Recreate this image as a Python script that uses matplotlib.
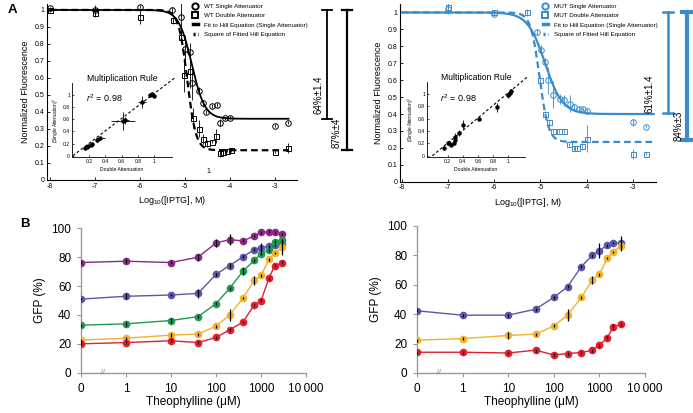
import matplotlib
matplotlib.use("Agg")
import matplotlib.pyplot as plt
import matplotlib.transforms as mtransforms
from matplotlib.lines import Line2D
import numpy as np

plt.rcParams['font.family'] = ['Liberation Sans', 'DejaVu Sans']
plt.rcParams['mathtext.fontset'] = 'custom'
plt.rcParams['mathtext.rm'] = 'Liberation Sans'
plt.rcParams['mathtext.it'] = 'Liberation Sans:italic'

# ---- panel A data (log10 IPTG, normalized fluorescence) ----
wt_single_x = [-8.0, -7.0, -6.0, -5.3, -5.1, -5.0, -4.9, -4.84, -4.68, -4.61, -4.53, -4.41, -4.3, -4.22, -4.11, -4.0, -3.0, -2.7]
wt_single_y = [1.01, 1.0, 1.02, 1.0, 0.96, 0.77, 0.755, 0.57, 0.525, 0.45, 0.40, 0.435, 0.44, 0.337, 0.363, 0.366, 0.32, 0.337]
wt_single_err = [0.01, 0.03, 0.01, 0.02, 0.1, 0.08, 0.05, 0.1, 0.02, 0.02, 0.01, 0.01, 0.01, 0.02, 0.01, 0.01, 0.01, 0.01]
wt_double_x = [-8.0, -7.0, -6.0, -5.27, -5.1, -5.02, -4.9, -4.83, -4.69, -4.61, -4.52, -4.41, -4.31, -4.22, -4.15, -4.07, -3.98, -3.0, -2.7]
wt_double_y = [1.0, 0.98, 0.96, 0.94, 0.84, 0.62, 0.64, 0.363, 0.30, 0.24, 0.216, 0.225, 0.26, 0.157, 0.167, 0.172, 0.176, 0.167, 0.19]
wt_double_err = [0.01, 0.02, 0.04, 0.02, 0.03, 0.1, 0.1, 0.06, 0.05, 0.03, 0.02, 0.01, 0.04, 0.02, 0.01, 0.01, 0.01, 0.01, 0.03]

mut_single_x = [-7.0, -6.0, -5.08, -4.98, -4.9, -4.83, -4.72, -4.58, -4.5, -4.37, -4.27, -4.16, -4.08, -4.0, -3.0, -2.72]
mut_single_y = [1.02, 0.99, 0.885, 0.78, 0.71, 0.6, 0.515, 0.49, 0.48, 0.46, 0.44, 0.43, 0.43, 0.42, 0.35, 0.325]
mut_single_err = [0.03, 0.01, 0.02, 0.03, 0.02, 0.08, 0.08, 0.03, 0.03, 0.05, 0.02, 0.02, 0.01, 0.01, 0.02, 0.01]
mut_double_x = [-7.0, -6.0, -5.3, -5.0, -4.9, -4.82, -4.72, -4.6, -4.5, -4.38, -4.28, -4.2, -4.1, -4.0, -3.0, -2.72]
mut_double_y = [1.03, 1.0, 1.0, 0.6, 0.4, 0.35, 0.3, 0.3, 0.3, 0.22, 0.2, 0.2, 0.21, 0.255, 0.165, 0.165]
mut_double_err = [0.03, 0.01, 0.02, 0.02, 0.02, 0.02, 0.01, 0.01, 0.01, 0.01, 0.01, 0.01, 0.02, 0.08, 0.03, 0.01]

# fitted Hill parameters: top, bottom, midpoint, hill coefficient
wt_single_fit = (1.0, 0.36, -4.85, 3.0)
wt_square_fit = (1.0, 0.175, -4.95, 4.5)
mut_single_fit = (1.0, 0.40, -4.9, 2.3)
mut_square_fit = (1.0, 0.235, -5.02, 4.5)

# inset: double attenuation vs (single attenuation)^2
wt_ins_x = [0.15, 0.17, 0.19, 0.22, 0.24, 0.30, 0.34, 0.62, 0.64, 0.85, 0.95, 0.98, 1.0]
wt_ins_y = [0.13, 0.15, 0.16, 0.17, 0.19, 0.25, 0.29, 0.57, 0.58, 0.88, 0.99, 1.01, 0.98]
wt_ins_xerr = [0.01, 0.01, 0.02, 0.02, 0.02, 0.03, 0.05, 0.15, 0.05, 0.05, 0.02, 0.02, 0.02]
wt_ins_yerr = [0.01, 0.01, 0.02, 0.01, 0.02, 0.02, 0.02, 0.15, 0.06, 0.1, 0.03, 0.03, 0.03]
mut_ins_x = [0.15, 0.2, 0.22, 0.25, 0.28, 0.3, 0.3, 0.35, 0.4, 0.62, 0.85, 1.0, 1.02, 1.04]
mut_ins_y = [0.12, 0.2, 0.21, 0.18, 0.2, 0.25, 0.3, 0.37, 0.5, 0.6, 0.78, 0.98, 1.02, 1.05]
mut_ins_yerr = [0.03, 0.03, 0.03, 0.02, 0.03, 0.05, 0.06, 0.05, 0.07, 0.01, 0.07, 0.05, 0.05, 0.03]

# ---- panel B data (theophylline uM, GFP %) ----
theo = [0, 1, 10, 40, 100, 200, 400, 700, 1000, 1500, 2000, 3000]
gfp_left = {
    'purple': [76.2, 77.1, 76.2, 79.9, 89.7, 92.0, 91.1, 94.5, 97.0, 97.5, 97.0, 95.9],
    'blue':   [51.0, 52.9, 53.8, 54.9, 68.0, 74.1, 80.1, 85.1, 86.5, 87.4, 88.3, 89.0],
    'green':  [33.0, 33.9, 36.2, 38.9, 47.8, 58.4, 70.3, 77.6, 82.4, 84.7, 90.6, 91.5],
    'orange': [22.7, 24.0, 26.1, 26.8, 32.3, 40.0, 51.7, 63.8, 67.3, 78.3, 82.8, 86.7],
    'red':    [20.1, 21.0, 22.2, 21.0, 24.5, 29.7, 35.2, 46.9, 49.9, 65.4, 73.9, 76.0],
}
err_left = {
    'purple': [1, 1.5, 1, 2.5, 3, 4, 1, 1, 1, 1, 1, 1],
    'blue':   [1, 2, 1, 3, 1, 2, 1, 1, 3, 1, 1, 1],
    'green':  [1, 1.5, 2, 1, 1, 1, 3, 1, 1, 1, 1, 1],
    'orange': [1, 1, 1.5, 1, 1, 4, 1, 3, 1, 1, 1, 5],
    'red':    [1, 1, 1, 1, 1, 1, 1, 1, 1, 1, 1, 1],
}
gfp_right = {
    'blue':   [42.3, 39.3, 39.3, 43.4, 51.4, 58.6, 72.3, 80.0, 83.2, 87.0, 88.4, 88.2],
    'orange': [22.3, 23.4, 25.5, 26.4, 32.0, 39.3, 51.4, 63.2, 67.3, 78.2, 82.3, 86.4],
    'red':    [14.1, 14.1, 13.6, 15.5, 12.3, 13.2, 13.9, 15.5, 18.9, 23.9, 31.4, 33.0],
}
err_right = {
    'blue':   [1, 1, 1, 1, 1, 1, 1, 1, 5, 1, 1, 5],
    'orange': [1, 1, 2.5, 1, 1, 4, 1, 3, 1, 1, 1, 1],
    'red':    [1, 1, 1, 1, 1, 1, 1, 1, 1, 1, 2, 1],
}
colors = {'purple': '#8b2a82', 'blue': '#5a56a8', 'green': '#1d9a50',
          'orange': '#f1b32c', 'red': '#e0202e'}

BLUE = '#3a8bcb'


def hill(x, top, bottom, mid, n):
    return bottom + (top - bottom) / (1 + 10 ** (n * (x - mid)))


fig = plt.figure(figsize=(6.93, 4.13), dpi=100)


def panel_a(rect, inset_rect, c, single, double, fits, names, ins, xlim, ylim,
            bars, fit_end, leg_x):
    ax = fig.add_axes(rect)
    for side in ('top', 'right'):
        ax.spines[side].set_visible(False)
    for side in ('left', 'bottom'):
        ax.spines[side].set_linewidth(0.8)
    xf = np.linspace(-8.0, fit_end, 400)
    ax.plot(xf, hill(xf, *fits[0]), color=c, lw=1.6 if c != 'k' else 1.3)
    ax.plot(xf, hill(xf, *fits[1]), color=c, lw=1.6, ls=(0, (3, 1.8)))
    ax.errorbar(single[0], single[1], yerr=single[2], fmt='o', ms=4, mfc='none',
                mec=c, mew=0.7, ecolor=c, elinewidth=0.6, capsize=0)
    ax.errorbar(double[0], double[1], yerr=double[2], fmt='s', ms=3.6, mfc='none',
                mec=c, mew=0.7, ecolor=c, elinewidth=0.6, capsize=0)
    ax.set_xlim(*xlim)
    ax.set_ylim(*ylim)
    ax.set_xticks([-8, -7, -6, -5, -4, -3])
    ax.set_xticklabels(['-8', '-7', '-6', '-5', '-4', '-3'])
    yt = np.round(np.arange(0, 1.01, 0.1), 1)
    ax.set_yticks(yt)
    ax.set_yticklabels(['0'] + ['%.1f' % v for v in yt[1:-1]] + ['1'])
    ax.tick_params(labelsize=5, length=2, width=0.6, direction='in', pad=2)
    ax.set_xlabel('Log$_{10}$([IPTG], M)', fontsize=6.5, labelpad=3)
    ax.set_ylabel('Normalized Fluorescence', fontsize=6.5, labelpad=3)

    handles = [
        Line2D([], [], marker='o', ls='none', mfc='none', mec=c, mew=1.4, ms=4.5),
        Line2D([], [], marker='s', ls='none', mfc='none', mec=c, mew=1.4, ms=4.2),
        Line2D([], [], color=c, lw=2.5),
        Line2D([], [], color=c, lw=2.5, ls=(0, (0.6, 0.7))),
    ]
    ax.legend(handles, names, loc='upper left', bbox_to_anchor=(leg_x, 1.025),
              frameon=False, fontsize=4.5, handlelength=0.9, handletextpad=0.9,
              labelspacing=0.6, borderpad=0.2)

    # attenuation bars to the right of the axes
    tr = mtransforms.blended_transform_factory(ax.transAxes, ax.transData)
    for bx, lo, lw, label, tx, ty in bars:
        ax.plot([bx, bx], [lo, 1.0], color=c, lw=lw, transform=tr, clip_on=False)
        for yy in (lo, 1.0):
            ax.plot([bx - 0.02, bx + 0.02], [yy, yy], color=c, lw=lw,
                    transform=tr, clip_on=False)
        ax.text(tx, ty, label, rotation=90, fontsize=7, ha='center',
                va='center', transform=tr)

    # inset
    ia = fig.add_axes(inset_rect)
    for side in ('top', 'right'):
        ia.spines[side].set_visible(False)
    for side in ('left', 'bottom'):
        ia.spines[side].set_linewidth(0.6)
    ia.patch.set_alpha(0)
    ia.plot([0, 1.25], [0, 1.27], color='k', lw=0.8, ls=(0, (2.5, 2)),
            clip_on=False)
    ia.errorbar(ins[0], ins[1], xerr=ins[2], yerr=ins[3], fmt='o', ms=2.2,
                color='k', elinewidth=0.6, capsize=0)
    ia.set_xlim(-0.01 if c == 'k' else -0.07, 1.22)
    ia.set_ylim(-0.02, 1.19)
    ia.set_xticks([0.2, 0.4, 0.6, 0.8, 1.0])
    ia.set_xticklabels(['0.2', '0.4', '0.6', '0.8', '1'])
    ia.set_yticks([0, 0.2, 0.4, 0.6, 0.8, 1.0])
    ia.set_yticklabels(['0', '0.2', '0.4', '0.6', '0.8', '1'])
    ia.tick_params(labelsize=3.6, length=1.5, width=0.5, direction='in', pad=1.5)
    ia.set_xlabel('Double Attenuation', fontsize=3.6, labelpad=2)
    ia.set_ylabel('(Single Attenuation)$^2$', fontsize=3.4, labelpad=1.5)
    ia.set_title('Multiplication Rule', fontsize=6.2, pad=1)
    ia.text(0.32, 0.79, '$\\mathit{r}^2$ = 0.98', fontsize=6.5, ha='center',
            va='center', transform=ia.transAxes)
    return ax


axL = panel_a([0.0678, 0.5642, 0.3608, 0.4262], [0.1039, 0.6199, 0.1443, 0.1792], 'k',
              (wt_single_x, wt_single_y, wt_single_err),
              (wt_double_x, wt_double_y, wt_double_err),
              (wt_single_fit, wt_square_fit),
              ['WT Single Attenuator', 'WT Double Attenuator',
               'Fit to Hill Equation (Single Attenuator)', 'Square of Fitted Hill Equation'],
              (wt_ins_x, wt_ins_y, wt_ins_xerr, wt_ins_yerr),
              (-8.07, -2.51), (0, 1.035),
              [(1.12, 0.36, 1.3, '64%\u00b11.4', 1.085, 0.50),
               (1.20, 0.175, 1.6, '87%\u00b14', 1.16, 0.28)],
              -2.7, 0.565)
axL.text(-4.49, 0.05, '1', fontsize=5, ha='center', va='center')

axR = panel_a([0.5772, 0.56, 0.3694, 0.4303], [0.6162, 0.6199, 0.1414, 0.1816], BLUE,
              (mut_single_x, mut_single_y, mut_single_err),
              (mut_double_x, mut_double_y, mut_double_err),
              (mut_single_fit, mut_square_fit),
              ['MUT Single Attenuator', 'MUT Double Attenuator',
               'Fit to Hill Equation (Single Attenuator)', 'Square of Fitted Hill Equation'],
              (mut_ins_x, mut_ins_y, [0.01] * len(mut_ins_x), mut_ins_yerr),
              (-8.04, -2.5), (0, 1.05),
              [(1.047, 0.405, 1.8, '61%\u00b11.4', 0.975, 0.52),
               (1.12, 0.245, 3.0, '84%\u00b13', 1.09, 0.33)],
              -2.55, 0.54)


def panel_b(rect, data, errs):
    ax = fig.add_axes(rect)
    ax.set_xscale('symlog', linthresh=1, linscale=0.9)
    for side in ('top', 'right'):
        ax.spines[side].set_visible(False)
    for side in ('left', 'bottom'):
        ax.spines[side].set_color('#9a9a9a')
        ax.spines[side].set_linewidth(1.0)
    for name, vals in data.items():
        ax.plot(theo, vals, color=colors[name], lw=1.0, marker='o', ms=4.5,
                zorder=3)
        ax.errorbar(theo, vals, yerr=errs[name], fmt='none', ecolor='k',
                    elinewidth=0.9, capsize=0, zorder=4)
    ax.set_xlim(0, 10000)
    ax.set_ylim(0, 100)
    ax.set_xticks([0, 1, 10, 100, 1000, 10000])
    ax.set_xticklabels(['0', '1', '10', '100', '1000', '10\u2009000'])
    ax.xaxis.set_minor_locator(matplotlib.ticker.NullLocator())
    ax.set_yticks([0, 20, 40, 60, 80, 100])
    ax.tick_params(labelsize=8.5, length=3, width=0.8, color='#9a9a9a', pad=4)
    ax.set_xlabel('Theophylline (\u03bcM)', fontsize=8.5, labelpad=1)
    ax.set_ylabel('GFP (%)', fontsize=8.5, labelpad=4)
    ax.text(0.48, 0, '//', fontsize=5, ha='center', va='center', color='#777777',
            clip_on=False)
    return ax


panel_b([0.1169, 0.0969, 0.3247, 0.351], gfp_left, err_left)
panel_b([0.6017, 0.0969, 0.329, 0.356], gfp_right, err_right)

fig.text(0.0115, 0.976, 'A', fontsize=9.5, fontweight='bold', va='center')
fig.text(0.029, 0.458, 'B', fontsize=9.5, fontweight='bold', va='center')

fig.savefig('out.png', dpi=100)
